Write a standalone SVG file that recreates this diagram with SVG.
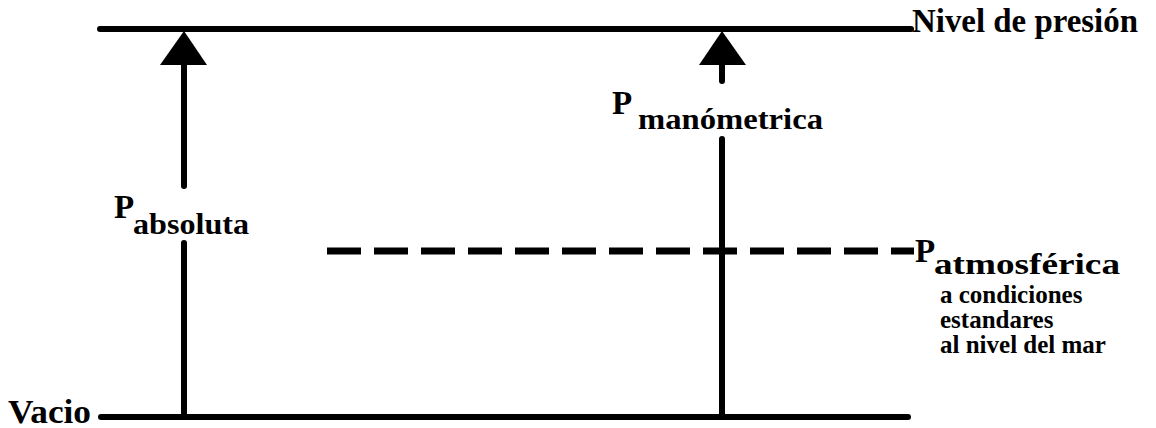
<svg xmlns="http://www.w3.org/2000/svg" width="1156" height="428" viewBox="0 0 1156 428">
<defs>
<style>
.ln{stroke:#000;stroke-width:6;fill:none;stroke-linecap:round}
.dash{stroke:#000;stroke-width:7;fill:none;stroke-dasharray:34 13}
.head{fill:#000}
.t{font-family:'Liberation Serif','Times New Roman',Times,'DejaVu Serif',serif;font-weight:bold;fill:#000}
.big{font-size:33px}
.sub{font-size:29px}
.small{font-size:25px}
</style>
</defs>
<rect width="1156" height="428" fill="#fff"/>
<g id="connectors">
<line class="ln" x1="100" y1="29" x2="911" y2="29"/>
<line class="ln" x1="101" y1="417" x2="908" y2="417"/>
<line class="dash" x1="327" y1="251" x2="914" y2="251"/>
<line class="ln" x1="184" y1="62" x2="184" y2="186"/>
<line class="ln" x1="184" y1="243" x2="184" y2="417"/>
<polygon class="head" points="184,31 160,65 207,65"/>
<line class="ln" x1="722" y1="62" x2="722" y2="81"/>
<line class="ln" x1="722" y1="139" x2="722" y2="417"/>
<polygon class="head" points="722,31 699,65 746,65"/>
</g>
<g id="nivel-presion">
<text class="t big" x="912" y="32" textLength="226" lengthAdjust="spacingAndGlyphs">Nivel de presión</text>
</g>
<g id="vacio">
<text class="t big" x="8" y="423" textLength="83" lengthAdjust="spacingAndGlyphs">Vacio</text>
</g>
<g id="p-absoluta">
<text class="t big" x="114" y="218">P</text>
<text class="t sub" x="133" y="234" textLength="116" lengthAdjust="spacingAndGlyphs">absoluta</text>
</g>
<g id="p-manometrica">
<text class="t big" x="612" y="114">P</text>
<text class="t sub" x="638" y="129" textLength="185" lengthAdjust="spacingAndGlyphs">manómetrica</text>
</g>
<g id="p-atmosferica">
<text class="t big" x="915" y="262">P</text>
<text class="t sub" x="934" y="274" textLength="186" lengthAdjust="spacingAndGlyphs">atmosférica</text>
<text class="t small" x="940" y="303">a condiciones</text>
<text class="t small" x="940" y="328">estandares</text>
<text class="t small" x="940" y="353">al nivel del mar</text>
</g>
</svg>
